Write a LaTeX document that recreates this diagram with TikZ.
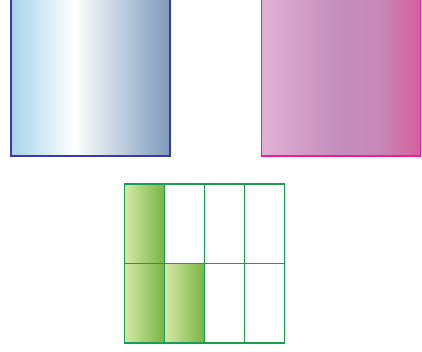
\documentclass[tikz,border=0pt]{standalone}
\usepackage{tikz}
\usetikzlibrary{calc}
\definecolor{skyl}{HTML}{A6D3EB}
\definecolor{skyr}{HTML}{7C99BC}
\definecolor{skyedge}{HTML}{3A3AAA}
\definecolor{pinkl}{HTML}{E2B1D4}
\definecolor{pinkm}{HTML}{C48FBD}
\definecolor{pinkr}{HTML}{D5609B}
\definecolor{pinkedge}{HTML}{EC1C9A}
\definecolor{leafl}{HTML}{D6E8A6}
\definecolor{leafr}{HTML}{78B544}
\definecolor{leafedge}{HTML}{1C9C52}

% stops sit between 25bp and 75bp, the part that covers the path
\pgfdeclarehorizontalshading{skyshade}{100bp}{color(0bp)=(skyl); color(25bp)=(skyl);
  color(45bp)=(white); color(75bp)=(skyr); color(100bp)=(skyr)}
\pgfdeclarehorizontalshading{pinkshade}{100bp}{color(0bp)=(pinkl); color(25bp)=(pinkl);
  color(48bp)=(pinkm); color(62bp)=(pinkm!85!pinkr); color(75bp)=(pinkr); color(100bp)=(pinkr)}
\pgfdeclarehorizontalshading{leafshade}{100bp}{color(0bp)=(leafl); color(25bp)=(leafl);
  color(75bp)=(leafr); color(100bp)=(leafr)}

\begin{document}
\begin{tikzpicture}[x=1pt, y=-1pt,
  sheet/.style={line width=1.5pt, line join=miter},
  cell/.style={draw=leafedge, line width=1.5pt}]

\def\gx{124.5}   % left edge of the grid
\def\gy{184}     % top edge of the grid
\def\cw{40}      % cell width
\def\ch{79.5}    % cell height

\useasboundingbox (0,0) rectangle (422,351);
\clip (0,0) rectangle (422,351);

% ---- the two upper sheets, cut by the top edge
\draw[sheet, draw=skyedge, shading=skyshade]
  (11,-5) rectangle (170,156);
\draw[sheet, draw=pinkedge, shading=pinkshade]
  (261.5,-5) rectangle (420.5,156);

% ---- grid of eight cells, filled ones first
\foreach \c/\r in {0/0, 0/1, 1/1}{
  \shade[shading=leafshade]
    ($(\gx,\gy)+(\c*\cw,\r*\ch)$) rectangle ++(\cw,\ch);
}
\foreach \c in {0,...,3}{
  \foreach \r in {0,1}{
    \draw[cell] ($(\gx,\gy)+(\c*\cw,\r*\ch)$) rectangle ++(\cw,\ch);
  }
}

\end{tikzpicture}
\end{document}
